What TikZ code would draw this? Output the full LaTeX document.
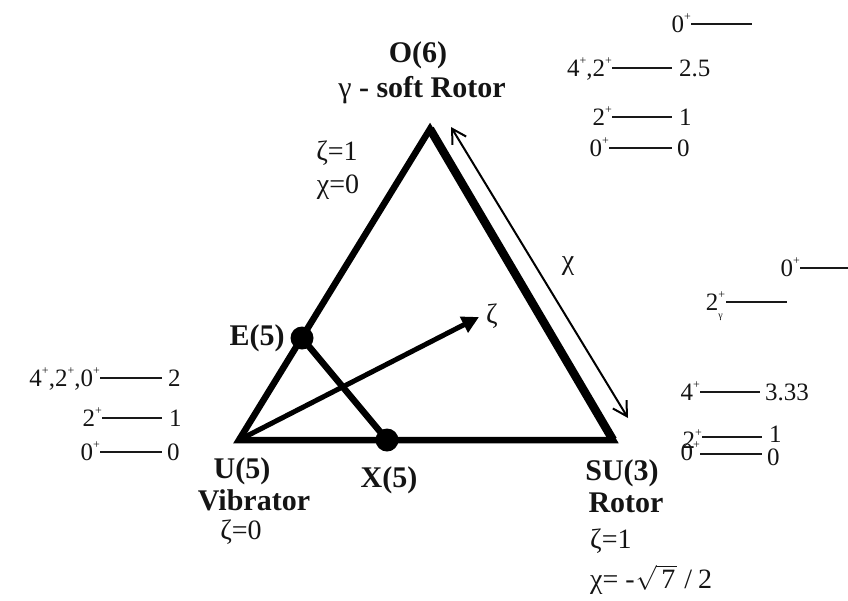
\documentclass[tikz,border=0pt]{standalone}
\usepackage{fontspec}
\setmainfont{Liberation Serif}
\usetikzlibrary{arrows.meta}
\newcommand\upp[1]{\raisebox{0.45em}{\fontsize{12}{12}\selectfont #1}}
\newcommand\updn[2]{\rlap{\raisebox{0.45em}{\fontsize{12}{12}\selectfont #1}}\raisebox{-0.32em}{\fontsize{10}{10}\selectfont #2}}
\begin{document}
\begin{tikzpicture}[x=1pt,y=-1pt,
  bl/.style={font=\fontsize{30}{30}\selectfont\bfseries, inner sep=0pt, text=black!92},
  rg/.style={font=\fontsize{28}{28}\selectfont, inner sep=0pt, text=black!92},
  lv/.style={font=\fontsize{25}{25}\selectfont, inner sep=0pt, text height=16pt, text depth=0pt, text=black!92},
  lvl/.style={line width=2.6pt, black!90},
  side/.style={line width=6.5pt, black},
  dot/.style={circle, fill=black, inner sep=0pt, minimum size=23pt}]
\useasboundingbox (0,0) rectangle (848,600);
% triangle
\coordinate (U) at (239,440);
\coordinate (O) at (430,129);
\coordinate (S) at (613,440);
\draw[side, line join=miter] (U) -- (O) -- (S) -- cycle;
\draw[line width=8.5pt, black] (O) -- (S);
\node[dot] (E) at (302,338) {};
\node[dot] (X) at (387,440) {};
\draw[side] (E.center) -- (X.center);
% zeta arrow
\coordinate (zt) at (479,317);
\draw[line width=5pt, -{Triangle[length=17pt,width=17pt]}] (U) -- (zt);
\node[rg] (zl) at (492,316) {ζ};
% chi arrow
\coordinate (c1) at (451,127);
\coordinate (c2) at (628,418);
\draw[line width=2pt, {Straight Barb[length=14pt,width=16pt]}-{Straight Barb[length=14pt,width=16pt]}] (c1) -- (c2);
\node[rg] (xl) at (568,266) {χ};
% labels
\node[bl, anchor=base] (lO) at (418,62) {O(6)};
\node[bl, anchor=base] (lOs) at (422,97) {{\mdseries γ} - soft Rotor};
\node[rg, anchor=base] (zO) at (337,160) {ζ=1};
\node[rg, anchor=base] (cO) at (338,193) {χ=0};
\node[bl, anchor=base] (lE) at (257,345) {E(5)};
\node[bl, anchor=base] (lU) at (242,478) {U(5)};
\node[bl, anchor=base] (lUs) at (254,510) {Vibrator};
\node[rg, anchor=base] (zU) at (241,539) {ζ=0};
\node[bl, anchor=base] (lX) at (389,487) {X(5)};
\node[bl, anchor=base] (lS) at (622,480) {SU(3)};
\node[bl, anchor=base] (lSs) at (626,512) {Rotor};
\node[rg, anchor=base west] (zS) at (590,548) {ζ=1};
\node[rg, anchor=base west] (cS) at (590,588) {χ= -\kern1pt$\sqrt{\mbox{\kern5pt 7\kern2pt}}$\kern7pt/\kern6pt2};
% U(5) levels
\coordinate (ua1) at (100,378); \coordinate (ub1) at (162,378);
\coordinate (ua2) at (102,418); \coordinate (ub2) at (162,418);
\coordinate (ua3) at (100,452); \coordinate (ub3) at (162,452);
\draw[lvl] (ua1) -- (ub1);
\draw[lvl] (ua2) -- (ub2);
\draw[lvl] (ua3) -- (ub3);
\node[lv, anchor=east] (ut1) at (ua1) {4\upp{+},2\upp{+},0\upp{+}};
\node[lv, anchor=east] (ut2) at (ua2) {2\upp{+}};
\node[lv, anchor=east] (ut3) at (ua3) {0\upp{+}};
\node[lv, anchor=west] (ue1) at (168,378) {2};
\node[lv, anchor=west] (ue2) at (169,418) {1};
\node[lv, anchor=west] (ue3) at (167,452) {0};
% O(6) levels
\coordinate (oa0) at (691,24); \coordinate (ob0) at (752,24);
\coordinate (oa1) at (612,68); \coordinate (ob1) at (672,68);
\coordinate (oa2) at (612,117); \coordinate (ob2) at (672,117);
\coordinate (oa3) at (609,148); \coordinate (ob3) at (672,148);
\draw[lvl] (oa0) -- (ob0);
\draw[lvl] (oa1) -- (ob1);
\draw[lvl] (oa2) -- (ob2);
\draw[lvl] (oa3) -- (ob3);
\node[lv, anchor=east] (ot0) at (oa0) {0\upp{+}};
\node[lv, anchor=east] (ot1) at (oa1) {4\upp{+},2\upp{+}};
\node[lv, anchor=east] (ot2) at (oa2) {2\upp{+}};
\node[lv, anchor=east] (ot3) at (oa3) {0\upp{+}};
\node[lv, anchor=west] (oe1) at (679,68) {2.5};
\node[lv, anchor=west] (oe2) at (679,117) {1};
\node[lv, anchor=west] (oe3) at (677,148) {0};
% SU(3) levels
\coordinate (sa0) at (800,268); \coordinate (sb0) at (850,268);
\coordinate (sa1) at (726,302); \coordinate (sb1) at (787,302);
\coordinate (sa2) at (700,392); \coordinate (sb2) at (760,392);
\coordinate (sa3) at (702,437); \coordinate (sb3) at (762,437);
\coordinate (sa4) at (700,454); \coordinate (sb4) at (762,454);
\draw[lvl] (sa0) -- (sb0);
\draw[lvl] (sa1) -- (sb1);
\draw[lvl] (sa2) -- (sb2);
\draw[lvl] (sa3) -- (sb3);
\draw[lvl] (sa4) -- (sb4);
\node[lv, anchor=east] (st0) at (sa0) {0\upp{+}};
\node[lv, anchor=east] (st1) at ([xshift=-3pt]sa1) {2\updn{+}{γ}};
\node[lv, anchor=east] (st2) at (sa2) {4\upp{+}};
\node[lv, anchor=east] (st3) at ([yshift=-3pt]sa3) {2\upp{+}};
\node[lv, anchor=east] (st4) at ([yshift=2pt]sa4) {0\upp{+}};
\node[lv, anchor=west] (se2) at (765,392) {3.33};
\node[lv, anchor=west] (se3) at (769,434) {1};
\node[lv, anchor=west] (se4) at (767,457) {0};
\end{tikzpicture}
\end{document}
